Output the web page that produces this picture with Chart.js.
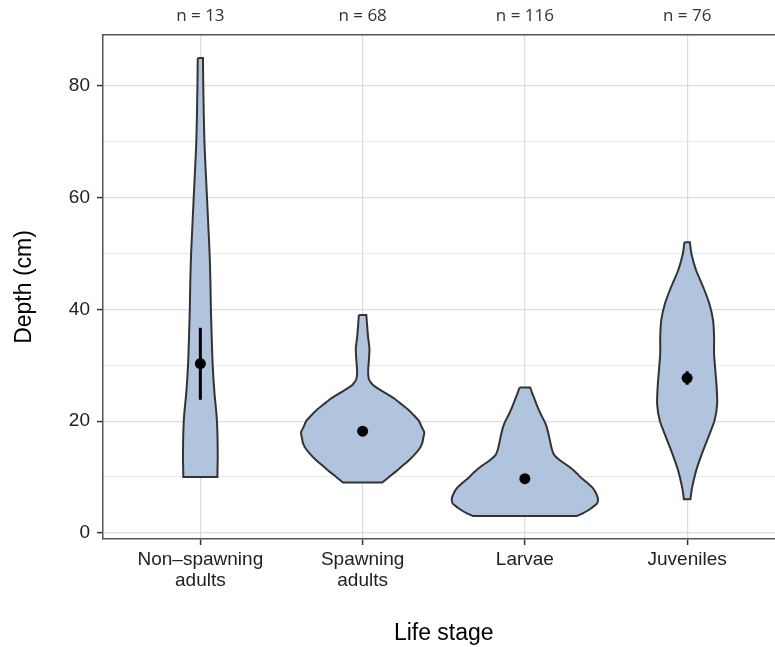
<!DOCTYPE html>
<html><head><meta charset="utf-8">
<script src="https://cdn.jsdelivr.net/npm/chart.js@4"></script>
<style>html,body{margin:0;padding:0;overflow:hidden;background:#fff;width:775px;height:647px}</style>
</head><body>
<canvas id="c" width="790" height="647" style="display:block"></canvas>
<script>
// ---- data ----
const categories = [['Non\u2013spawning','adults'], ['Spawning','adults'], ['Larvae'], ['Juveniles']];
const sampleSizes = ['n = 13', 'n = 68', 'n = 116', 'n = 76'];
const yTickValues = [0, 10, 20, 30, 40, 50, 60, 70, 80];
const yTickLabels = ['0', '', '20', '', '40', '', '60', '', '80'];

// violin outlines: depth (cm) and half width of the density (in category units)
const nonSpawningDepth = [85, 80, 75, 70, 66, 60, 55, 50, 45, 40, 35, 30, 25, 21, 18, 14, 10];
const nonSpawningHalf  = [0.016, 0.018, 0.021, 0.025, 0.031, 0.041, 0.049, 0.057, 0.062, 0.065, 0.070, 0.076, 0.087, 0.100, 0.105, 0.107, 0.105];

const spawningDepth = [39, 37, 35, 33, 31, 29, 27.5, 26.5, 26, 25, 24, 23, 22, 21, 20, 19, 18, 17, 16, 15, 14, 13, 12, 11, 10, 9];
const spawningHalf  = [0.023, 0.028, 0.034, 0.042, 0.039, 0.034, 0.039, 0.062, 0.086, 0.142, 0.197, 0.240, 0.283, 0.317, 0.348, 0.363, 0.380, 0.374, 0.367, 0.349, 0.320, 0.286, 0.246, 0.206, 0.163, 0.121];

const larvaeDepth = [26, 25, 24, 23, 22, 21, 20, 19, 18, 17, 16, 15, 14, 13, 12, 11, 10, 9, 8, 7, 6, 5.2, 4.5, 4, 3.5, 3];
const larvaeHalf  = [0.033, 0.045, 0.059, 0.072, 0.086, 0.102, 0.120, 0.134, 0.143, 0.151, 0.158, 0.166, 0.179, 0.216, 0.265, 0.308, 0.342, 0.382, 0.419, 0.440, 0.451, 0.443, 0.413, 0.388, 0.357, 0.318];

const juvenilesDepth = [52, 50, 47, 44, 41, 38, 35, 32, 29, 26, 23, 20, 17, 14, 11, 8, 6];
const juvenilesHalf  = [0.017, 0.026, 0.055, 0.099, 0.137, 0.160, 0.166, 0.166, 0.174, 0.182, 0.185, 0.168, 0.129, 0.089, 0.054, 0.030, 0.020];

const means  = [30.3, 18.2, 9.7, 27.7];
const ciLow  = [23.8, 18.2, 9.7, 26.5];
const ciHigh = [36.7, 18.2, 9.7, 28.9];

// ---- build ----
const FILL = '#B0C4DE', OUTLINE = '#333333';
function violin(pos, depth, half) {
  const n = depth.length, pts = [];
  for (let i = 0; i < n; i++) pts.push({x: pos - half[i], y: depth[i]});
  pts.push({x: pos - half[n - 1], y: depth[n - 1]});          // sharp bottom-left corner
  pts.push({x: pos + half[n - 1], y: depth[n - 1]});          // sharp bottom-right corner
  for (let i = n - 1; i >= 0; i--) pts.push({x: pos + half[i], y: depth[i]});
  pts.push({x: pos + half[0], y: depth[0]});                  // sharp top-right corner
  pts.push({x: pos - half[0], y: depth[0]});
  return {data: pts, showLine: true, fill: 'shape', backgroundColor: FILL, borderColor: OUTLINE,
          borderWidth: 2, pointRadius: 0, tension: 0.22, order: 3};
}
const violinSets = [
  violin(1, nonSpawningDepth, nonSpawningHalf),
  violin(2, spawningDepth, spawningHalf),
  violin(3, larvaeDepth, larvaeHalf),
  violin(4, juvenilesDepth, juvenilesHalf)
];
const errData = [];
means.forEach((m, i) => { errData.push({x: i + 1, y: ciLow[i]}, {x: i + 1, y: ciHigh[i]}, {x: i + 1, y: null}); });

const FONT = 'Liberation Sans';
const catTicks = s => { s.ticks = categories.map((c, i) => ({value: i + 1})); };

new Chart(document.getElementById('c'), {
  type: 'scatter',
  data: {
    datasets: [
      {data: means.map((m, i) => ({x: i + 1, y: m})), pointRadius: 5.5, pointBackgroundColor: '#000',
       pointBorderWidth: 0, showLine: false, order: 1},
      {data: errData, showLine: true, spanGaps: false, borderColor: '#000', borderWidth: 3, pointRadius: 0, order: 2},
      ...violinSets
    ]
  },
  options: {
    responsive: false,
    animation: false,
    layout: {padding: {left: 11, right: 5, top: 0, bottom: 0}},
    plugins: {legend: {display: false}, tooltip: {enabled: false}},
    scales: {
      x: {
        type: 'linear', position: 'bottom', min: 0.4, max: 4.6,
        afterBuildTicks: catTicks,
        afterFit: s => { s.height = 108; },
        ticks: {callback: v => categories[v - 1], font: {family: FONT, size: 19, lineHeight: 1.12},
                color: '#222', padding: 4, maxRotation: 0, autoSkip: false},
        grid: {color: '#dcdcdc', lineWidth: 1.2, tickLength: 6, tickColor: '#333', tickWidth: 1.5},
        border: {color: '#555', width: 1.5},
        title: {display: true, text: 'Life stage', font: {family: FONT, size: 23}, color: '#000',
                padding: {top: 0, bottom: 0}}
      },
      x2: {
        type: 'linear', position: 'top', min: 0.4, max: 4.6,
        afterBuildTicks: catTicks,
        afterFit: s => { s.height = 35; },
        ticks: {callback: v => sampleSizes[v - 1], font: {family: 'Open Sans', size: 17}, color: '#333',
                padding: 9, maxRotation: 0, autoSkip: false},
        grid: {display: false, drawTicks: false},
        border: {display: true, color: '#555', width: 1.5}
      },
      y: {
        min: -1.1, max: 89.1,
        afterBuildTicks: s => { s.ticks = yTickValues.map(v => ({value: v})); },
        afterFit: s => { s.width = 92; },
        ticks: {callback: (v, i) => yTickLabels[yTickValues.indexOf(v)], font: {family: FONT, size: 19},
                color: '#222', padding: 7, autoSkip: false},
        grid: {
          color: c => (c.tick && c.tick.value % 20 === 0) ? '#dcdcdc' : '#e6e6e6',
          lineWidth: c => (c.tick && c.tick.value % 20 === 0) ? 1.2 : 0.9,
          tickLength: 6,
          tickColor: c => (c.tick && c.tick.value % 20 === 0) ? '#333' : 'rgba(0,0,0,0)',
          tickWidth: 1.5
        },
        border: {color: '#555', width: 1.5},
        title: {display: true, text: 'Depth (cm)', font: {family: FONT, size: 23}, color: '#000',
                padding: {top: 0, bottom: 0}}
      }
    }
  }
});
</script>
</body></html>
